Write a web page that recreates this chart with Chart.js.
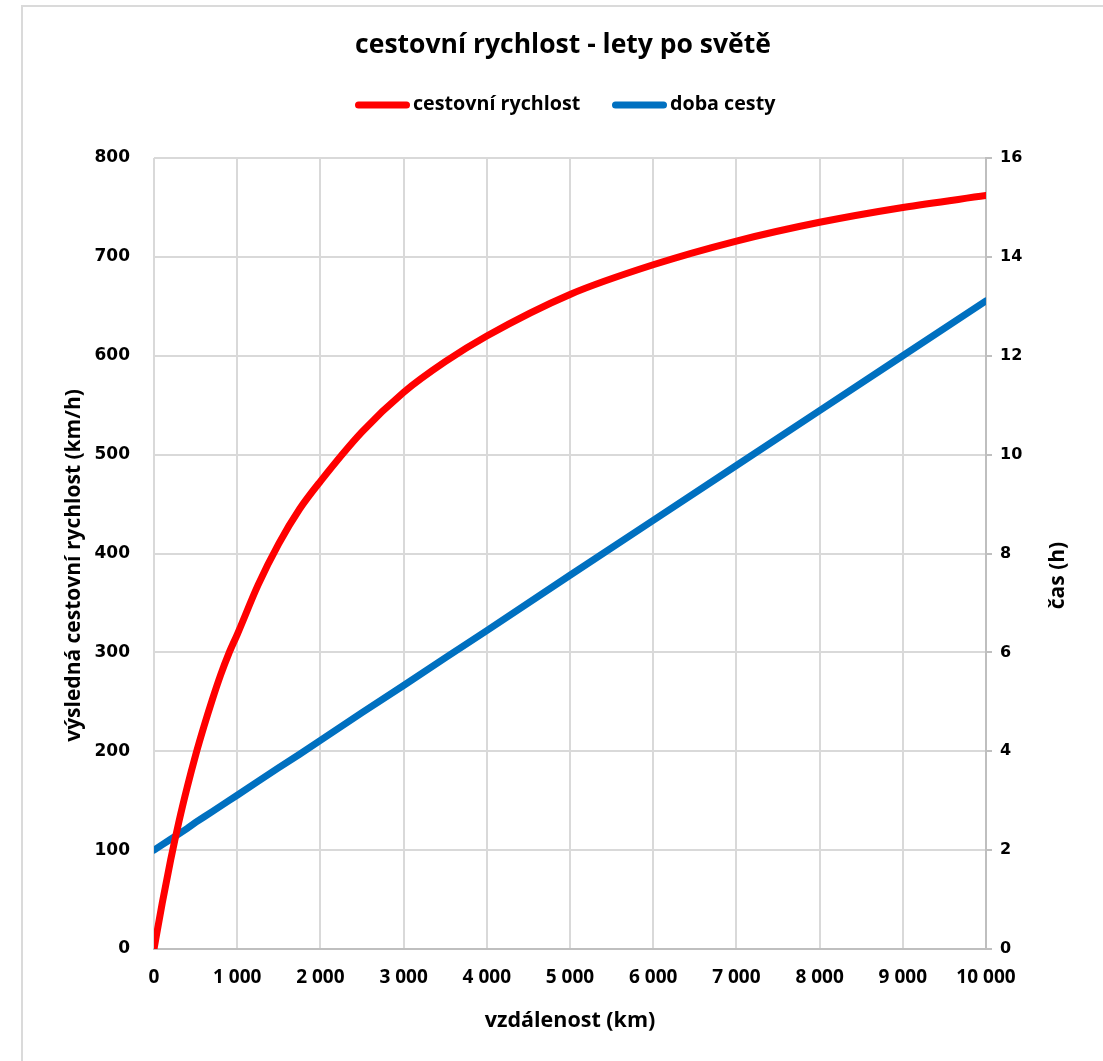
<!DOCTYPE html>
<html lang="cs">
<head>
<meta charset="utf-8">
<title>cestovní rychlost - lety po světě</title>
<script src="https://cdn.jsdelivr.net/npm/chart.js@4.4.1/dist/chart.umd.min.js"></script>
<style>
  html, body { margin: 0; padding: 0; background: #ffffff; overflow: hidden; }
  #frame {
    position: absolute; left: 21px; top: 5px; width: 2000px; height: 2000px;
    border-left: 2px solid #dadada; border-top: 2px solid #dadada;
  }
  #wrap { position: absolute; left: 0; top: 0; width: 1103px; height: 1061px; }
</style>
</head>
<body>
<div id="frame"></div>
<div id="wrap"><canvas id="chart" width="1103" height="1061"></canvas></div>
<script>
// vzdálenost letu (km)
const distanceKm = [0, 100, 200, 300, 400, 500, 600, 700, 800, 900, 1000,
                    1250, 1500, 1750, 2000, 2500, 3000, 3500, 4000,
                    5000, 6000, 7000, 8000, 9000, 10000];
// výsledná cestovní rychlost (km/h)
const speedKmh = [0, 47, 90, 129, 164, 196, 225, 252, 277, 299, 318,
                  368, 410, 445, 473, 523, 563, 594, 620,
                  662, 692, 716, 735, 750, 762];
// doba cesty (h)
const timeH = [2.00, 2.11, 2.22, 2.33, 2.44, 2.56, 2.67, 2.78, 2.89, 3.00, 3.11,
               3.39, 3.67, 3.94, 4.22, 4.78, 5.33, 5.89, 6.44,
               7.56, 8.67, 9.78, 10.89, 12.00, 13.11];

const xTickLabels = ['0', '1 000', '2 000', '3 000', '4 000', '5 000',
                     '6 000', '7 000', '8 000', '9 000', '10 000'];
const speedTicks = [0, 100, 200, 300, 400, 500, 600, 700, 800];
const timeTicks = [0, 2, 4, 6, 8, 10, 12, 14, 16];

const chartTitle = 'cestovní rychlost - lety po světě';
const seriesNames = ['cestovní rychlost', 'doba cesty'];
const seriesColors = ['#ff0000', '#0070c0'];
const xTitle = 'vzdálenost (km)';
const ySpeedTitle = 'výsledná cestovní rychlost (km/h)';
const yTimeTitle = 'čas (h)';

const TEXT_FONT = '"Open Sans", "Lato", sans-serif';
const NUM_FONT = '"DejaVu Sans", sans-serif';

const GRID = '#d9d9d9';
const AXIS = '#bfbfbf';

const points = (xs, ys) => xs.map((x, i) => ({ x: x, y: ys[i] }));

// title, legend and the two vertical axis titles
const decorations = {
  id: 'decorations',
  afterDraw(chart) {
    const ctx = chart.ctx;
    const area = chart.chartArea;
    ctx.save();
    ctx.fillStyle = '#000000';

    ctx.font = 'bold 26.5px ' + TEXT_FONT;
    ctx.textAlign = 'center';
    ctx.textBaseline = 'middle';
    ctx.fillText(chartTitle, 563, 45);

    ctx.font = 'bold 19.7px ' + TEXT_FONT;
    ctx.textAlign = 'left';
    const starts = [355, 612];
    const boxW = 55, boxH = 7, gap = 3;
    seriesNames.forEach((name, i) => {
      const x0 = starts[i];
      ctx.beginPath();
      ctx.lineCap = 'round';
      ctx.lineWidth = boxH;
      ctx.strokeStyle = seriesColors[i];
      ctx.moveTo(x0 + boxH / 2, 105);
      ctx.lineTo(x0 + boxW - boxH / 2, 105);
      ctx.stroke();
      ctx.fillText(name, x0 + boxW + gap, 104);
    });

    const midY = (area.top + area.bottom) / 2;
    ctx.font = 'bold 21px ' + TEXT_FONT;
    ctx.textAlign = 'center';
    ctx.save();
    ctx.translate(74, midY + 12);
    ctx.rotate(-Math.PI / 2);
    ctx.fillText(ySpeedTitle, 0, 0);
    ctx.restore();
    ctx.save();
    ctx.translate(1058, midY + 22);
    ctx.rotate(-Math.PI / 2);
    ctx.fillText(yTimeTitle, 0, 0);
    ctx.restore();

    ctx.restore();
  }
};

new Chart(document.getElementById('chart'), {
  type: 'line',
  data: {
    datasets: [
      {
        label: seriesNames[0],
        data: points(distanceKm, speedKmh),
        yAxisID: 'ySpeed',
        borderColor: seriesColors[0],
        backgroundColor: seriesColors[0],
        borderWidth: 7,
        pointRadius: 0,
        cubicInterpolationMode: 'monotone',
        borderCapStyle: 'round',
        fill: false
      },
      {
        label: seriesNames[1],
        data: points(distanceKm, timeH),
        yAxisID: 'yTime',
        borderColor: seriesColors[1],
        backgroundColor: seriesColors[1],
        borderWidth: 7,
        pointRadius: 0,
        tension: 0,
        borderCapStyle: 'round',
        fill: false
      }
    ]
  },
  options: {
    responsive: false,
    animation: false,
    devicePixelRatio: 1,
    layout: { padding: { top: 158, left: 0, right: 0, bottom: 0 } },
    plugins: {
      legend: { display: false },
      title: { display: false },
      tooltip: { enabled: false }
    },
    scales: {
      x: {
        type: 'linear',
        position: 'bottom',
        min: 0,
        max: 10000,
        afterFit(scale) { scale.height = 112; },
        afterBuildTicks(scale) {
          scale.ticks = xTickLabels.map((_, i) => ({ value: i * 1000 }));
        },
        ticks: {
          autoSkip: false,
          maxRotation: 0,
          padding: 17,
          color: '#000000',
          font: { family: TEXT_FONT, size: 19, weight: 'bold' },
          callback: (v, i) => xTickLabels[i]
        },
        grid: { color: GRID, lineWidth: 2, drawTicks: false },
        border: { display: true, color: AXIS, width: 2 },
        title: {
          display: true,
          text: xTitle,
          color: '#000000',
          font: { family: TEXT_FONT, size: 21.5, weight: 'bold' },
          padding: { top: 0, bottom: 27 }
        }
      },
      ySpeed: {
        type: 'linear',
        position: 'left',
        min: 0,
        max: 800,
        afterFit(scale) { scale.width = 154; },
        afterBuildTicks(scale) {
          scale.ticks = speedTicks.map(v => ({ value: v }));
        },
        ticks: {
          padding: 24,
          color: '#000000',
          font: { family: NUM_FONT, size: 17, weight: 'bold' }
        },
        grid: { color: GRID, lineWidth: 2, drawTicks: false },
        border: { display: false }
      },
      yTime: {
        type: 'linear',
        position: 'right',
        min: 0,
        max: 16,
        afterFit(scale) { scale.width = 117; },
        afterBuildTicks(scale) {
          scale.ticks = timeTicks.map(v => ({ value: v }));
        },
        ticks: {
          padding: 8,
          color: '#000000',
          font: { family: NUM_FONT, size: 16, weight: 'bold' }
        },
        grid: { drawOnChartArea: false, color: AXIS, lineWidth: 2, drawTicks: true, tickLength: 6 },
        border: { display: true, color: AXIS, width: 2 }
      }
    }
  },
  plugins: [decorations]
});
</script>
</body>
</html>
